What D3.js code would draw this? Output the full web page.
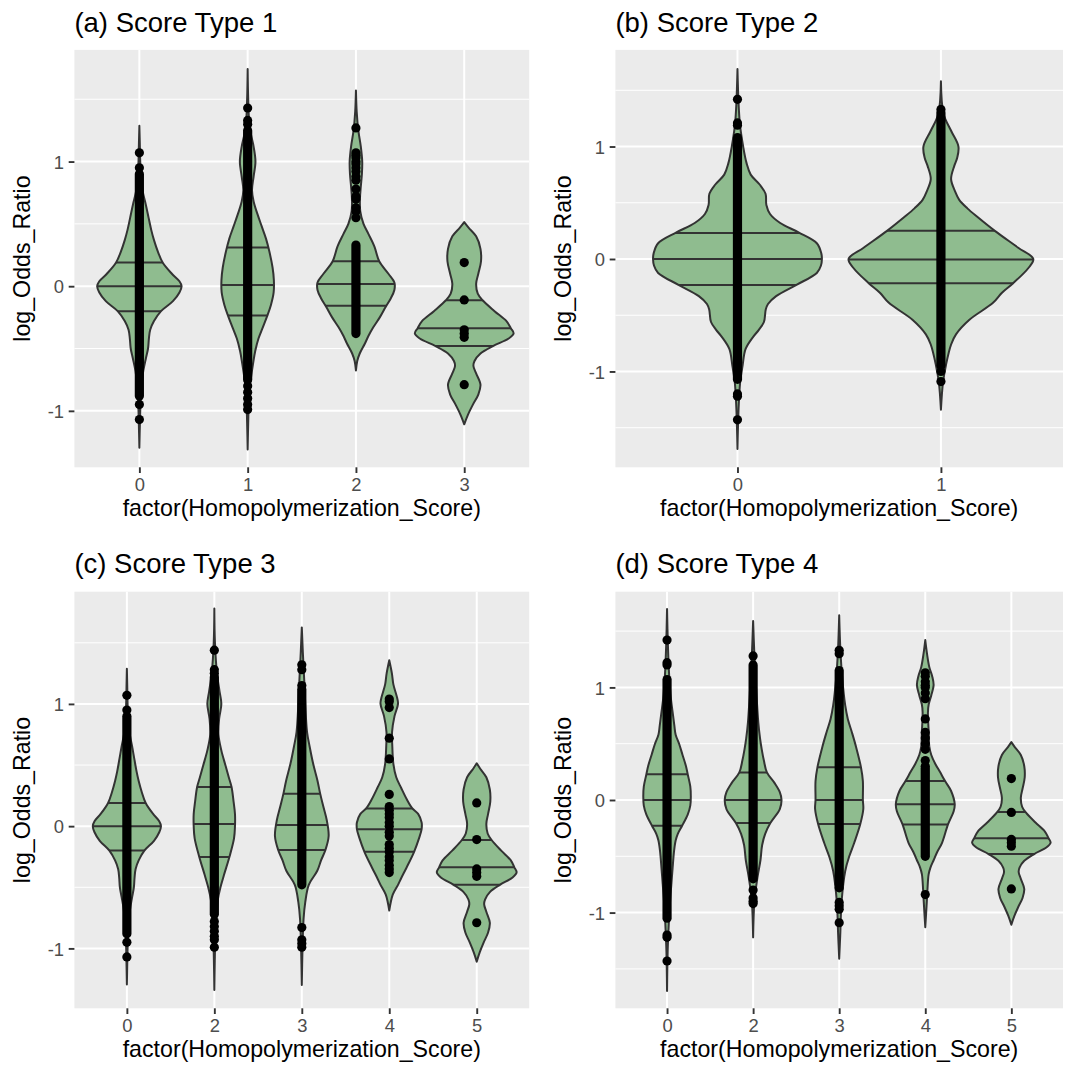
<!DOCTYPE html>
<html>
<head>
<meta charset="utf-8">
<script src="https://cdn.jsdelivr.net/npm/d3@7"></script>
<style>
  body { margin: 0; background: #fff; }
  text { font-family: "Liberation Sans", Arial, Helvetica, sans-serif; }
</style>
</head>
<body>
<svg id="chart" width="1065" height="1080"></svg>
<script>
// ---- data ----
// violin profiles: [log_Odds_Ratio, half width as a fraction of the category step]
var a0Profile = [[-1.296,0],[-1.1,0.005],[-0.95,0.01],[-0.8,0.02],[-0.68,0.036],[-0.58,0.06],[-0.5,0.08],[-0.42,0.088],[-0.35,0.1],[-0.28,0.135],[-0.2,0.2],[-0.12,0.31],[-0.05,0.37],[0,0.39],[0.04,0.37],[0.1,0.3],[0.19,0.215],[0.28,0.17],[0.37,0.135],[0.45,0.11],[0.55,0.085],[0.66,0.058],[0.75,0.033],[0.85,0.016],[1.0,0.008],[1.15,0.004],[1.287,0]];
var a1Profile = [[-1.31,0],[-1.1,0.005],[-0.9,0.012],[-0.75,0.028],[-0.62,0.05],[-0.52,0.07],[-0.42,0.1],[-0.33,0.14],[-0.24,0.18],[-0.15,0.215],[-0.05,0.24],[0.05,0.242],[0.15,0.23],[0.28,0.2],[0.38,0.17],[0.48,0.13],[0.58,0.09],[0.68,0.055],[0.77,0.04],[0.88,0.055],[1.0,0.072],[1.12,0.055],[1.22,0.03],[1.32,0.014],[1.5,0.005],[1.743,0]];
var a2Profile = [[-0.676,0],[-0.6,0.012],[-0.54,0.035],[-0.46,0.083],[-0.4,0.115],[-0.33,0.16],[-0.25,0.22],[-0.166,0.274],[-0.1,0.32],[-0.03,0.355],[0.03,0.355],[0.1,0.3],[0.2,0.215],[0.32,0.17],[0.42,0.115],[0.5,0.07],[0.6,0.04],[0.7,0.037],[0.8,0.045],[0.9,0.055],[1.0,0.058],[1.12,0.045],[1.25,0.022],[1.4,0.007],[1.571,0]];
var a3Profile = [[-1.108,0],[-1.03,0.035],[-0.95,0.08],[-0.87,0.13],[-0.79,0.15],[-0.7,0.11],[-0.64,0.085],[-0.6,0.095],[-0.54,0.15],[-0.48,0.265],[-0.42,0.41],[-0.378,0.456],[-0.337,0.43],[-0.28,0.39],[-0.2,0.28],[-0.113,0.17],[-0.06,0.125],[0.02,0.11],[0.1,0.13],[0.2,0.155],[0.3,0.15],[0.4,0.11],[0.47,0.04],[0.514,0]];

var b0Profile = [[-1.69,0],[-1.35,0.005],[-1.1,0.013],[-0.95,0.025],[-0.8,0.04],[-0.69,0.078],[-0.63,0.105],[-0.56,0.13],[-0.45,0.139],[-0.4,0.15],[-0.33,0.19],[-0.23,0.29],[-0.124,0.39],[-0.06,0.41],[0,0.415],[0.05,0.412],[0.14,0.39],[0.237,0.3],[0.32,0.21],[0.4,0.16],[0.48,0.142],[0.58,0.138],[0.66,0.11],[0.75,0.065],[0.85,0.045],[1.0,0.028],[1.2,0.012],[1.4,0.005],[1.69,0]];
var b1Profile = [[-1.34,0],[-1.1,0.01],[-0.94,0.025],[-0.76,0.05],[-0.67,0.074],[-0.54,0.14],[-0.39,0.256],[-0.3,0.3],[-0.215,0.355],[-0.08,0.43],[0,0.454],[0.1,0.38],[0.25,0.265],[0.373,0.18],[0.45,0.13],[0.526,0.09],[0.6,0.07],[0.71,0.05],[0.83,0.066],[0.9,0.08],[1.0,0.086],[1.14,0.05],[1.29,0.013],[1.58,0]];

var c1Profile = [[-1.34,0],[-1.1,0.005],[-0.9,0.012],[-0.75,0.024],[-0.6,0.04],[-0.5,0.07],[-0.4,0.11],[-0.25,0.173],[-0.1,0.225],[0,0.236],[0.1,0.236],[0.2,0.22],[0.32,0.197],[0.4,0.165],[0.5,0.126],[0.62,0.08],[0.75,0.047],[0.88,0.055],[1.0,0.08],[1.1,0.06],[1.25,0.03],[1.5,0.007],[1.78,0]];
var c2Profile = [[-1.3,0],[-1.0,0.008],[-0.76,0.02],[-0.62,0.04],[-0.48,0.08],[-0.365,0.177],[-0.28,0.22],[-0.195,0.27],[-0.08,0.307],[0.05,0.285],[0.15,0.25],[0.266,0.21],[0.37,0.18],[0.51,0.13],[0.65,0.09],[0.77,0.06],[0.99,0.04],[1.16,0.03],[1.42,0.012],[1.626,0]];
var c3Profile = [[-0.69,0],[-0.56,0.04],[-0.48,0.1],[-0.42,0.14],[-0.34,0.197],[-0.21,0.284],[-0.1,0.34],[-0.025,0.37],[0.03,0.37],[0.1,0.33],[0.145,0.264],[0.22,0.2],[0.31,0.138],[0.4,0.08],[0.51,0.047],[0.65,0.035],[0.77,0.032],[0.9,0.06],[1.0,0.1],[1.05,0.09],[1.16,0.047],[1.25,0.03],[1.357,0]];

var d0Profile = [[-1.697,0],[-1.35,0.007],[-1.1,0.02],[-0.9,0.035],[-0.75,0.05],[-0.6,0.065],[-0.45,0.082],[-0.36,0.1],[-0.3,0.125],[-0.229,0.175],[-0.13,0.24],[-0.05,0.27],[0.03,0.276],[0.12,0.27],[0.229,0.24],[0.3,0.22],[0.4,0.18],[0.5,0.14],[0.58,0.1],[0.66,0.085],[0.75,0.07],[0.9,0.045],[1.1,0.025],[1.4,0.009],[1.697,0]];
var d1Profile = [[-1.22,0],[-0.9,0.015],[-0.69,0.05],[-0.535,0.085],[-0.4,0.105],[-0.3,0.14],[-0.205,0.2],[-0.08,0.31],[0,0.33],[0.07,0.31],[0.15,0.25],[0.245,0.16],[0.35,0.125],[0.45,0.1],[0.55,0.08],[0.69,0.06],[0.99,0.035],[1.3,0.014],[1.59,0]];
var d2Profile = [[-1.41,0],[-1.2,0.012],[-0.9,0.028],[-0.63,0.07],[-0.5,0.117],[-0.38,0.175],[-0.214,0.245],[-0.08,0.28],[0.0,0.275],[0.168,0.275],[0.29,0.253],[0.474,0.195],[0.6,0.148],[0.72,0.1],[0.84,0.07],[1.086,0.035],[1.33,0.014],[1.64,0]];
var d3Profile = [[-1.13,0],[-0.9,0.018],[-0.8,0.025],[-0.66,0.039],[-0.6,0.06],[-0.535,0.097],[-0.46,0.14],[-0.38,0.195],[-0.217,0.264],[-0.1,0.33],[-0.037,0.342],[0.08,0.3],[0.168,0.23],[0.25,0.17],[0.32,0.117],[0.4,0.07],[0.474,0.047],[0.6,0.04],[0.78,0.031],[0.85,0.04],[0.93,0.07],[1.02,0.097],[1.1,0.08],[1.18,0.047],[1.3,0.02],[1.42,0]];

// categories per panel
var catsA = ["0", "1", "2", "3"];
var catsB = ["0", "1"];
var catsC = ["0", "2", "3", "4", "5"];
var catsD = ["0", "2", "3", "4", "5"];

// quartiles [25%, 50%, 75%]
var quartA = [[-0.2, 0, 0.19], [-0.235, 0.01, 0.31], [-0.157, 0.017, 0.2], [-0.48, -0.337, -0.113]];
var quartB = [[-0.232, 0, 0.23], [-0.215, -0.005, 0.25]];
var quartC = [[-0.2, 0, 0.19], [-0.252, 0.017, 0.32], [-0.195, 0.01, 0.266], [-0.21, -0.025, 0.145], [-0.48, -0.337, -0.113]];
var quartD = [[-0.229, 0, 0.229], [-0.205, 0, 0.245], [-0.214, 0, 0.29], [-0.217, -0.037, 0.168], [-0.48, -0.34, -0.107]];

// runs where the points overlap into a solid column [from, to]
var denseA = [[-0.88, 0.9], [-0.75, 1.25], [-0.38, 0.33], null];
var denseB = [[-1.07, 1.08], [-0.95, 1.3]];
var denseC = [[-0.88, 0.9], [-0.72, 1.22], [-0.48, 1.12], null, null];
var denseD = [[-1.05, 1.07], [-0.7, 1.2], [-0.75, 1.15], [-0.5, 0.28], null];

// separate points
var pointsA = [
  [1.07, 0.95, -0.95, -1.07],
  [1.43, 1.33, 1.3, -0.8, -0.85, -0.9, -0.95, -0.99],
  [0.55, 0.6, 0.63, 0.7, 0.72, 0.78, 0.85, 0.88, 0.92, 0.95, 0.98, 1.0, 1.03, 1.05, 1.07, 1.27],
  [0.19, -0.11, -0.35, -0.38, -0.41, -0.79]
];
var pointsB = [
  [1.42, 1.21, 1.19, -1.2, -1.22, -1.43],
  [1.33, -1.0, -1.09]
];
var pointsC = [
  [1.07, 0.95, -0.95, -1.07],
  [1.44, 1.28, 1.25, -0.78, -0.82, -0.86, -0.9, -0.93, -0.99],
  [1.32, 1.28, 1.15, -0.83, -0.93, -0.96, -0.99],
  [1.04, 1.02, 0.97, 0.72, 0.55, 0.26, 0.16, 0.13, 0.1, 0.07, 0.03, 0.0, -0.05, -0.08, -0.15, -0.18, -0.21, -0.25, -0.28, -0.32, -0.35, -0.38],
  [0.19, -0.11, -0.35, -0.38, -0.41, -0.79]
];
var pointsD = [
  [1.42, 1.22, 1.2, -1.2, -1.22, -1.43],
  [1.28, -0.8, -0.87, -0.9, -0.92],
  [1.33, 1.3, -0.78, -0.91, -0.94, -0.97, -1.09],
  [1.13, 1.1, 1.05, 1.02, 1.0, 0.95, 0.9, 0.72, 0.6, 0.55, 0.5, 0.45, 0.35, 0.3, -0.84],
  [0.19, -0.11, -0.35, -0.38, -0.41, -0.79]
];

// y axis ranges and breaks
var yDomainA = [-1.453, 1.896];
var yDomainB = [-1.852, 1.859];
var yDomainC = [-1.49, 1.918];
var yDomainD = [-1.85, 1.85];
var yBreaks = [-1, 0, 1];
var yMinorBreaks = [-1.5, -0.5, 0.5, 1.5];

var titles = ["(a) Score Type 1", "(b) Score Type 2", "(c) Score Type 3", "(d) Score Type 4"];
var xTitle = "factor(Homopolymerization_Score)";
var yTitle = "log_Odds_Ratio";

// ---- layout ----
var panels = [
  { title: titles[0], cats: catsA, yDomain: yDomainA, profiles: [a0Profile, a1Profile, a2Profile, a3Profile], quart: quartA, dense: denseA, points: pointsA,
    box: { left: 74.4, right: 529.2, top: 49.9, bottom: 467.3 } },
  { title: titles[1], cats: catsB, yDomain: yDomainB, profiles: [b0Profile, b1Profile], quart: quartB, dense: denseB, points: pointsB,
    box: { left: 615.4, right: 1063, top: 49.9, bottom: 467.3 } },
  { title: titles[2], cats: catsC, yDomain: yDomainC, profiles: [a0Profile, c1Profile, c2Profile, c3Profile, a3Profile], quart: quartC, dense: denseC, points: pointsC,
    box: { left: 74.4, right: 529.2, top: 591.7, bottom: 1008.3 } },
  { title: titles[3], cats: catsD, yDomain: yDomainD, profiles: [d0Profile, d1Profile, d2Profile, d3Profile, a3Profile], quart: quartD, dense: denseD, points: pointsD,
    box: { left: 615.4, right: 1063, top: 591.7, bottom: 1008.3 } }
];

var violinFill = "#8FBC8F";
var outline = "#333333";
var lineW = 2;
var pointR = 4.6;
var tickLen = 5.7;
var tickPad = 4.6;

var svg = d3.select("#chart");
svg.append("rect").attr("width", 1065).attr("height", 1080).attr("fill", "#ffffff");

panels.forEach(function(p, pi) {
    drawPanel(svg, p, pi);
});

function drawPanel(svg, p, pi) {
    var box = p.box;
    var g = svg.append("g");

    var x = d3.scalePoint()
        .domain(p.cats)
        .range([box.left, box.right])
        .padding(0.6);
    var y = d3.scaleLinear()
        .domain(p.yDomain)
        .range([box.bottom, box.top]);
    var step = x.step();

    // panel background
    g.append("rect")
        .attr("x", box.left)
        .attr("y", box.top)
        .attr("width", box.right - box.left)
        .attr("height", box.bottom - box.top)
        .attr("fill", "#EBEBEB");

    // grid lines
    var minor = yMinorBreaks.filter(function(v) { return v > p.yDomain[0] && v < p.yDomain[1]; });
    g.selectAll(".gminor").data(minor).enter().append("line")
        .attr("x1", box.left).attr("x2", box.right)
        .attr("y1", function(d) { return y(d); })
        .attr("y2", function(d) { return y(d); })
        .attr("stroke", "#ffffff").attr("stroke-width", 1);
    g.selectAll(".gmajor").data(yBreaks).enter().append("line")
        .attr("x1", box.left).attr("x2", box.right)
        .attr("y1", function(d) { return y(d); })
        .attr("y2", function(d) { return y(d); })
        .attr("stroke", "#ffffff").attr("stroke-width", 2);
    g.selectAll(".gx").data(p.cats).enter().append("line")
        .attr("x1", function(d) { return x(d); })
        .attr("x2", function(d) { return x(d); })
        .attr("y1", box.top).attr("y2", box.bottom)
        .attr("stroke", "#ffffff").attr("stroke-width", 2);

    // violins
    p.cats.forEach(function(cat, i) {
        var cx = x(cat);
        var area = d3.area()
            .curve(d3.curveCatmullRom.alpha(0.5))
            .y(function(d) { return y(d[0]); })
            .x0(function(d) { return cx - d[1] * step; })
            .x1(function(d) { return cx + d[1] * step; });
        var pathD = area(p.profiles[i]);
        var clipId = "clip-" + pi + "-" + i;

        g.append("clipPath").attr("id", clipId)
            .append("path").attr("d", pathD);

        g.append("path")
            .attr("d", pathD)
            .attr("fill", violinFill)
            .attr("stroke", outline)
            .attr("stroke-width", lineW)
            .attr("stroke-linejoin", "round");

        // quartile lines, cut to the violin outline
        g.append("g").attr("clip-path", "url(#" + clipId + ")")
            .selectAll("line").data(p.quart[i]).enter().append("line")
            .attr("x1", cx - step * 0.5)
            .attr("x2", cx + step * 0.5)
            .attr("y1", function(d) { return y(d); })
            .attr("y2", function(d) { return y(d); })
            .attr("stroke", outline)
            .attr("stroke-width", lineW);

        // points
        if (p.dense[i]) {
            g.append("line")
                .attr("x1", cx).attr("x2", cx)
                .attr("y1", y(p.dense[i][0]))
                .attr("y2", y(p.dense[i][1]))
                .attr("stroke", "#000000")
                .attr("stroke-width", pointR * 2)
                .attr("stroke-linecap", "round");
        }
        g.selectAll(".pt" + i).data(p.points[i]).enter().append("circle")
            .attr("cx", cx)
            .attr("cy", function(d) { return y(d); })
            .attr("r", pointR)
            .attr("fill", "#000000");
    });

    // axes
    var yAxis = g.append("g")
        .attr("transform", "translate(" + box.left + ",0)")
        .call(d3.axisLeft(y).tickValues(yBreaks).tickSize(tickLen).tickPadding(tickPad)
            .tickFormat(function(d) { return String(d); }));
    var xAxis = g.append("g")
        .attr("transform", "translate(0," + box.bottom + ")")
        .call(d3.axisBottom(x).tickSize(tickLen).tickPadding(tickPad));

    [yAxis, xAxis].forEach(function(ax) {
        ax.select(".domain").remove();
        ax.attr("font-family", null).attr("font-size", null);
        ax.selectAll(".tick line").attr("stroke", "#333333").attr("stroke-width", 1.9);
        ax.selectAll(".tick text")
            .attr("fill", "#4D4D4D")
            .style("font-size", "18.4px");
    });
    yAxis.selectAll(".tick text").attr("dy", "0.36em");
    xAxis.selectAll(".tick text").attr("dy", "0.73em");

    // axis titles
    g.append("text")
        .attr("x", (box.left + box.right) / 2)
        .attr("y", box.bottom + 48.5)
        .attr("text-anchor", "middle")
        .style("font-size", "23.2px")
        .attr("fill", "#000000")
        .text(xTitle);
    g.append("text")
        .attr("transform", "translate(" + (box.left - 44.9) + "," + ((box.top + box.bottom) / 2) + ") rotate(-90)")
        .attr("text-anchor", "middle")
        .style("font-size", "23.2px")
        .attr("fill", "#000000")
        .text(yTitle);

    // panel title
    g.append("text")
        .attr("x", box.left)
        .attr("y", box.top - 18.4)
        .style("font-size", "27.5px")
        .attr("fill", "#000000")
        .text(p.title);
}
</script>
</body>
</html>
